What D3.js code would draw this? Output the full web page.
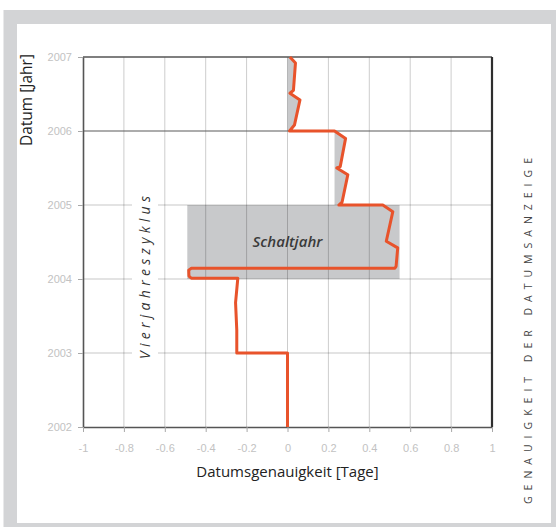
<!DOCTYPE html>
<html>
<head>
<meta charset="utf-8">
<script src="https://cdn.jsdelivr.net/npm/d3@7"></script>
<style>
  html, body { margin: 0; padding: 0; background: #fff; }
  svg { display: block; }
</style>
</head>
<body>
<svg id="chart" width="556" height="527"></svg>
<script>
// ---- data ----
const xTickValues = [-1, -0.8, -0.6, -0.4, -0.2, 0, 0.2, 0.4, 0.6, 0.8, 1];
const xTickLabels = ["-1", "-0.8", "-0.6", "-0.4", "-0.2", "0", "0.2", "0.4", "0.6", "0.8", "1"];
const yTickValues = [2002, 2003, 2004, 2005, 2006, 2007];

// accuracy curve (value in days, year)
const curveYears  = [2002, 2003.0, 2003.0, 2003.31, 2003.68, 2004.01, 2004.01, 2004.04, 2004.12, 2004.145, 2004.145, 2004.17, 2004.42, 2004.51, 2004.91, 2005.0, 2005.0, 2005.04, 2005.41, 2005.5, 2005.52, 2005.9, 2006.0, 2006.0, 2006.08, 2006.42, 2006.51, 2006.55, 2006.92, 2007.0];
const curveValues = [0,    0,      -0.248, -0.248,  -0.254,  -0.243,  -0.47,   -0.482,  -0.483,  -0.47,    0.525,    0.531,   0.539,   0.483,   0.515,   0.466,  0.251,  0.267,   0.295,   0.241,  0.258,   0.284,  0.23,   0.01,   0.034,   0.061,   0.012,   0.029,   0.039,   0.012];

// shaded bands
const band2006Years  = [2006.0, 2006.08, 2006.42, 2006.51, 2006.55, 2006.92, 2007.0];
const band2006Values = [0.01,   0.034,   0.061,   0.012,   0.029,   0.039,   0.012];
const band2006Base = 0;
const band2005Years  = [2005.0, 2005.04, 2005.41, 2005.5, 2005.52, 2005.9, 2006.0];
const band2005Values = [0.251,  0.267,   0.295,   0.241,  0.258,   0.284,  0.23];
const band2005Base = 0.23;
const leapYearBox = { x0: -0.49, x1: 0.548, y0: 2004, y1: 2005 };

// ---- chart ----
const svg = d3.select("#chart");
const FONT = "'Open Sans', 'Noto Sans', sans-serif";

// frame
svg.append("rect").attr("x", 3.5).attr("y", 10).attr("width", 560).attr("height", 520).attr("fill", "#d3d4d6");
svg.append("rect").attr("x", 17).attr("y", 24).attr("width", 534).attr("height", 499).attr("fill", "#ffffff");

const x = d3.scaleLinear().domain([-1, 1]).range([83, 492]);
const y = d3.scaleLinear().domain([2002, 2007]).range([427, 57]);

// shaded areas
svg.append("rect")
  .attr("x", x(leapYearBox.x0)).attr("y", y(leapYearBox.y1))
  .attr("width", x(leapYearBox.x1) - x(leapYearBox.x0))
  .attr("height", y(leapYearBox.y0) - y(leapYearBox.y1))
  .attr("fill", "#c8c9cb");

const area = (base) => d3.area()
  .y(d => y(d[0]))
  .x0(() => x(base))
  .x1(d => x(d[1]));

svg.append("path")
  .datum(band2006Years.map((d, i) => [d, band2006Values[i]]))
  .attr("d", area(band2006Base))
  .attr("fill", "#c8c9cb");
svg.append("path")
  .datum(band2005Years.map((d, i) => [d, band2005Values[i]]))
  .attr("d", area(band2005Base))
  .attr("fill", "#c8c9cb");

// grid
const grid = svg.append("g");
grid.selectAll("line.v").data(xTickValues.slice(1, -1)).join("line")
  .attr("x1", d => x(d)).attr("x2", d => x(d))
  .attr("y1", y(2007)).attr("y2", y(2002))
  .attr("stroke", "rgba(0,0,0,0.2)").attr("stroke-width", 1);
grid.selectAll("line.h").data(yTickValues.slice(1, -1)).join("line")
  .attr("x1", x(-1)).attr("x2", x(1))
  .attr("y1", d => y(d)).attr("y2", d => y(d))
  .attr("stroke", d => d === 2006 ? "#5a5a5a" : "rgba(0,0,0,0.22)")
  .attr("stroke-width", d => d === 2006 ? 1.2 : 1);

// "Vierjahreszyklus" label with white backing
svg.append("rect").attr("x", 132).attr("y", 190).attr("width", 26).attr("height", 180).attr("fill", "#fff");
svg.append("text")
  .attr("transform", `translate(150, ${y(2004.02)}) rotate(-90)`)
  .attr("text-anchor", "middle")
  .attr("font-family", FONT)
  .attr("font-style", "italic")
  .attr("font-size", 14)
  .attr("textLength", 163)
  .attr("lengthAdjust", "spacing")
  .attr("fill", "#333")
  .text("Vierjahreszyklus");

// frame of plot
svg.append("line").attr("x1", x(-1)).attr("x2", x(1)).attr("y1", y(2007)).attr("y2", y(2007))
  .attr("stroke", "#555").attr("stroke-width", 1.5);
svg.append("line").attr("x1", x(1)).attr("x2", x(1)).attr("y1", y(2007)).attr("y2", y(2002))
  .attr("stroke", "#2e2e2e").attr("stroke-width", 2.2);

// axes
const yAxis = d3.axisLeft(y).tickValues(yTickValues).tickFormat(d3.format("d"))
  .tickSize(5).tickSizeOuter(0).tickPadding(6);
const gy = svg.append("g").attr("transform", `translate(${x(-1)},0)`).call(yAxis);
const xAxis = d3.axisBottom(x).tickValues(xTickValues).tickFormat((d, i) => xTickLabels[i])
  .tickSize(5).tickSizeOuter(0).tickPadding(12);
const gx = svg.append("g").attr("transform", `translate(0,${y(2002)})`).call(xAxis);
[gx, gy].forEach(g => {
  g.select(".domain").attr("stroke", "#555").attr("stroke-width", 1.6);
  g.selectAll(".tick line").attr("stroke", "#a8a8a8");
  g.selectAll(".tick text").attr("fill", "#c2c2c2").attr("font-family", "'Liberation Sans', Arial, sans-serif").attr("font-size", 11);
});

// curve
svg.append("path")
  .datum(curveYears.map((d, i) => [d, curveValues[i]]))
  .attr("d", d3.line().x(d => x(d[1])).y(d => y(d[0])))
  .attr("fill", "none")
  .attr("stroke", "#e8532b")
  .attr("stroke-width", 3)
  .attr("stroke-linejoin", "round");

// Schaltjahr label
svg.append("text")
  .attr("x", x(0)).attr("y", y(2004.5) + 5)
  .attr("text-anchor", "middle")
  .attr("font-family", FONT)
  .attr("font-style", "italic")
  .attr("font-weight", 600)
  .attr("font-size", 15)
  .attr("fill", "#3a3a3a")
  .text("Schaltjahr");

// axis titles
svg.append("text")
  .attr("transform", `translate(32, ${y(2007) - 3}) rotate(-90)`)
  .attr("text-anchor", "end")
  .attr("font-family", FONT)
  .attr("font-size", 15.5)
  .attr("fill", "#222")
  .text("Datum [Jahr]");
svg.append("text")
  .attr("x", x(0)).attr("y", 477)
  .attr("text-anchor", "middle")
  .attr("font-family", FONT)
  .attr("font-size", 15)
  .attr("fill", "#222")
  .text("Datumsgenauigkeit [Tage]");

// side caption
svg.append("text")
  .attr("transform", "translate(532, 331) rotate(-90)")
  .attr("text-anchor", "middle")
  .attr("font-family", FONT)
  .attr("font-size", 10.5)
  .attr("textLength", 346)
  .attr("lengthAdjust", "spacing")
  .attr("fill", "#444")
  .text("GENAUIGKEIT DER DATUMSANZEIGE");
</script>
</body>
</html>
